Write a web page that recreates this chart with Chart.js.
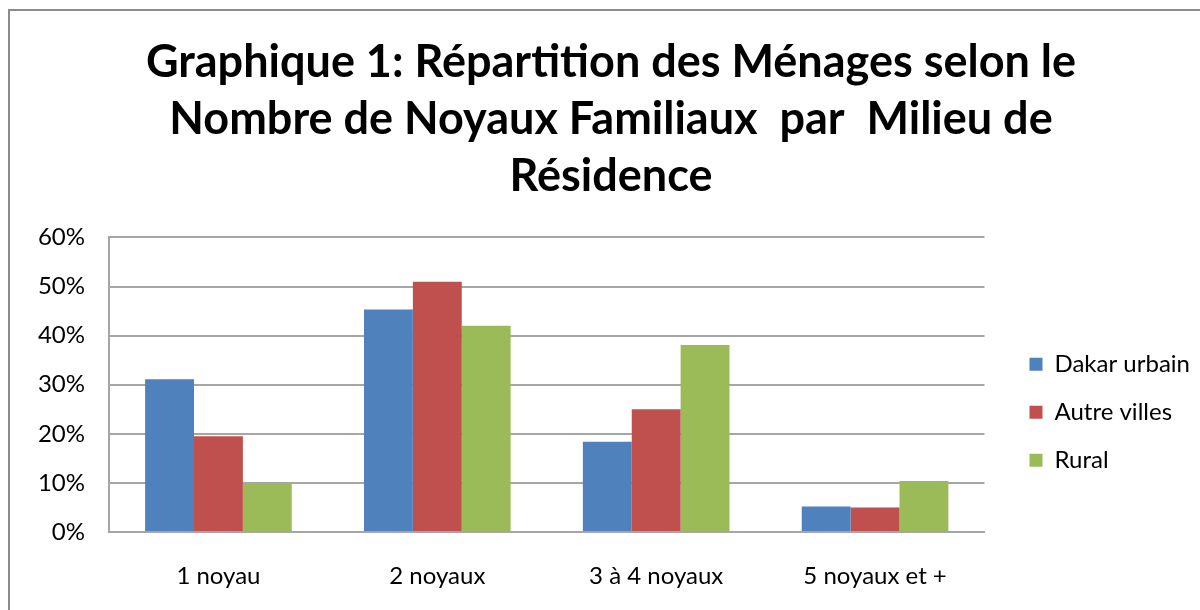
<!DOCTYPE html>
<html>
<head>
<meta charset="utf-8">
<script src="https://cdn.jsdelivr.net/npm/chart.js@4/dist/chart.umd.min.js"></script>
<style>
  html, body { margin: 0; padding: 0; background: #fff; }
  #wrap { position: relative; width: 1200px; height: 610px; }
</style>
</head>
<body>
<div id="wrap"><canvas id="c" width="1200" height="610"></canvas></div>
<script>
const categories = ["1 noyau", "2 noyaux", "3 à 4 noyaux", "5 noyaux et +"];
const seriesNames = ["Dakar urbain", "Autre villes", "Rural"];
const dakarUrbain = [31.1, 45.3, 18.4, 5.2];
const autreVilles = [19.5, 51.0, 25.0, 5.0];
const rural = [10.0, 42.0, 38.1, 10.4];
const titleLines = [
  "Graphique 1: Répartition des Ménages selon le",
  "Nombre de Noyaux Familiaux  par  Milieu de",
  "Résidence"
];
const yTicks = { min: 0, max: 60, step: 10 };

const colors = ["#4F81BD", "#C0504D", "#9BBB59"];
const gridColor = "#A6A6A6";

const frame = {
  id: "frame",
  beforeDraw(chart) {
    const ctx = chart.ctx;
    ctx.save();
    ctx.fillStyle = "#fff";
    ctx.fillRect(0, 0, chart.width, chart.height);
    ctx.strokeStyle = "#8C8C8C";
    ctx.lineWidth = 2;
    ctx.beginPath();
    ctx.moveTo(9, chart.height);
    ctx.lineTo(9, 10);
    ctx.lineTo(chart.width, 10);
    ctx.stroke();
    ctx.restore();
  }
};

new Chart(document.getElementById("c"), {
  type: "bar",
  data: {
    labels: categories,
    datasets: [
      { label: seriesNames[0], data: dakarUrbain, backgroundColor: colors[0] },
      { label: seriesNames[1], data: autreVilles, backgroundColor: colors[1] },
      { label: seriesNames[2], data: rural, backgroundColor: colors[2] }
    ]
  },
  options: {
    responsive: false,
    animation: false,
    devicePixelRatio: 1,
    layout: { padding: { left: 22, right: 0, top: 34, bottom: 22 } },
    datasets: { bar: { categoryPercentage: 0.67, barPercentage: 1.0 } },
    plugins: {
      title: {
        display: true,
        text: titleLines,
        color: "#000",
        font: { family: "Lato", size: 45, weight: "bold", lineHeight: 1.27 },
        padding: { top: 0, bottom: 32 }
      },
      legend: {
        position: "right",
        title: {
          display: true,
          text: "",
          font: { size: 12, lineHeight: 1.2 },
          padding: { top: 188, bottom: 0 }
        },
        labels: {
          color: "#000",
          font: { family: "Lato", size: 24 },
          boxWidth: 13,
          boxHeight: 13,
          padding: 24
        }
      },
      tooltip: { enabled: false }
    },
    scales: {
      x: {
        afterFit(scale) { scale.height = 56; },
        grid: { display: false, drawTicks: false },
        border: { display: true, color: gridColor, width: 2 },
        ticks: { color: "#000", font: { family: "Lato", size: 24 }, padding: 30, maxRotation: 0 }
      },
      y: {
        min: yTicks.min,
        max: yTicks.max,
        afterFit(scale) { scale.width = 87; },
        grid: { color: gridColor, lineWidth: 2, drawTicks: false },
        border: { display: true, color: gridColor, width: 2 },
        ticks: {
          stepSize: yTicks.step,
          color: "#000",
          font: { family: "Lato", size: 24 },
          padding: 24,
          callback: v => v + "%"
        }
      },
      gap: {
        position: "right",
        display: true,
        afterFit(scale) { scale.width = 21; },
        grid: { display: false, drawTicks: false },
        border: { display: false },
        ticks: { display: false }
      }
    }
  },
  plugins: [frame]
});
</script>
</body>
</html>
